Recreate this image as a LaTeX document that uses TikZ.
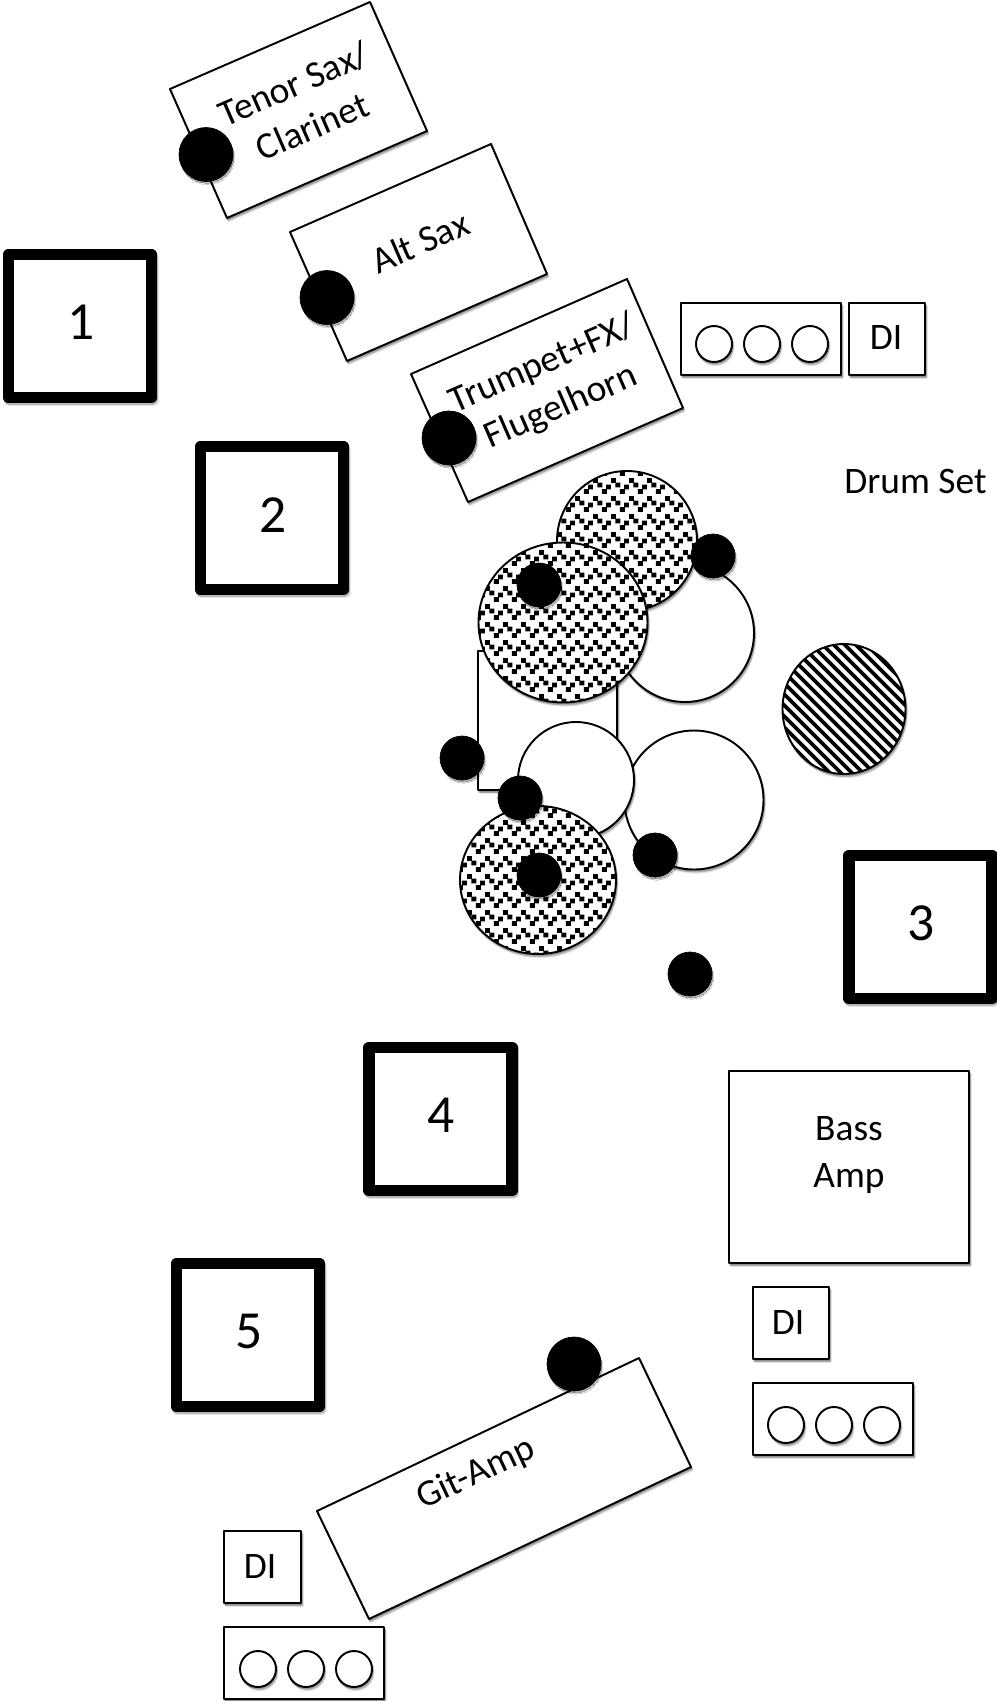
\documentclass[tikz,border=0pt]{standalone}
\usepackage{fontspec}
\setmainfont{Carlito}
\usetikzlibrary{patterns,shadows}
\newcommand{\confbit}[2]{\pgfpathrectangle{\pgfqpoint{#1pt}{#2pt}}{\pgfqpoint{2.75pt}{2.75pt}}}
\pgfdeclarepatternformonly{confetti}{\pgfqpoint{0pt}{0pt}}{\pgfqpoint{10.24pt}{10.24pt}}{\pgfqpoint{10.24pt}{10.24pt}}{%
\confbit{0}{7.4}\confbit{2.56}{4.84}\confbit{5.12}{1.14}\confbit{7.48}{3.7}
\pgfusepath{fill}}
\pgfdeclarepatternformonly{widestripes}{\pgfqpoint{0pt}{0pt}}{\pgfqpoint{6.26pt}{6.26pt}}{\pgfqpoint{6.26pt}{6.26pt}}{%
\pgfsetlinewidth{2.2pt}
\pgfpathmoveto{\pgfqpoint{-1pt}{7.26pt}}\pgfpathlineto{\pgfqpoint{7.26pt}{-1pt}}
\pgfpathmoveto{\pgfqpoint{-4pt}{4pt}}\pgfpathlineto{\pgfqpoint{4pt}{-4pt}}
\pgfpathmoveto{\pgfqpoint{2.26pt}{10.26pt}}\pgfpathlineto{\pgfqpoint{10.26pt}{2.26pt}}
\pgfusepath{stroke}}
\tikzset{
  softshade/.style={
    drop shadow={shadow xshift=.5pt,shadow yshift=-1pt,opacity=.2,fill=black,draw=black,line width=#1},
    drop shadow={shadow xshift=.9pt,shadow yshift=-1.8pt,opacity=.1,fill=black,draw=black,line width=#1}},
  box/.style={draw,line width=1.1pt,fill=white,softshade=1.1pt},
  stagebox/.style={draw,line width=6.6pt,fill=white,softshade=6.6pt},
  cymbal/.style={draw,line width=1.1pt,softshade=1.1pt,preaction={fill=white},pattern=confetti},
  ride/.style={draw,line width=1.1pt,softshade=1.1pt,preaction={fill=white},pattern=widestripes},
  mic/.style={fill=black,softshade=0pt},
  lab/.style={inner sep=0pt,align=center,font=\fontsize{21.3}{26.5}\selectfont},
  num/.style={inner sep=0pt,font=\fontsize{30.5}{32}\selectfont},
}
\begin{document}
\begin{tikzpicture}[x=0.02cm,y=-0.02cm,line join=round]
\useasboundingbox (0,0) rectangle (997,1701);
\draw[box](370,2)--(427,131)--(227,218)--(170,89)--cycle;
\draw[box](491,144)--(547,274)--(347,361)--(290,232)--cycle;
\draw[box](627,279)--(683,408)--(468,502)--(411,374)--cycle;
\draw[box](639,1358)--(691,1467)--(369,1619)--(317,1511)--cycle;
\node[lab,rotate=23.5](tenor) at (303,105){Tenor Sax/\\Clarinet};
\node[lab,rotate=23.5](alto) at (420,242){Alt Sax};
\node[lab,rotate=23.5](trumpet) at (552,386){Trumpet+FX/\\Flugelhorn};
\node[lab,rotate=25.2](gitamp) at (476,1474){Git-Amp};
\draw[mic](206,154.5)circle(27);
\draw[mic](327,297.5)circle(27);
\draw[mic](449,438)circle(27);
\draw[mic](574,1364)circle(27);
% players
\draw[stagebox](8.5,254.5)rectangle(151.5,397.5);
\draw[stagebox](200.5,446.5)rectangle(343.5,589.5);
\draw[stagebox](849,855.5)rectangle(992,998.5);
\draw[stagebox](369,1047.5)rectangle(512,1190.5);
\draw[stagebox](176.5,1263.5)rectangle(319.5,1406.5);
\node[num](one) at (81,322){1};
\node[num](two) at (273,515){2};
\node[num](three) at (921,923){3};
\node[num](four) at (441.5,1115){4};
\node[num](five) at (249,1331){5};
% drums
\draw[box](478,651)rectangle(617,790);
\draw[box](685,633)circle(69);
\draw[cymbal](627,541)circle(70);
\draw[cymbal](563,622.5)ellipse(84.5 and 80);
\draw[box](694,800)circle(69.5);
\draw[box](576,780)circle(58);
\draw[cymbal](538,880)ellipse(78 and 74);
\draw[ride](844,709)ellipse(61.5 and 65);
\draw[mic](713,556)circle(22);
\draw[mic](539,585)circle(22);
\draw[mic](462,758)circle(22);
\draw[mic](520,798)circle(22);
\draw[mic](655,855)circle(22);
\draw[mic](539,875)circle(22);
\draw[mic](690,974)circle(22);
\node[lab](drumset) at (915.5,481){Drum Set};
% boxes with three circles
\draw[box](681,303)rectangle(841,375);
\draw[box](714,344)circle(18)(762,344)circle(18)(810,344)circle(18);
\draw[box](849,303)rectangle(925,375);
\node[lab](dione) at (886,337){DI};
\draw[box](729,1071)rectangle(969,1263);
\node[lab](bassamp) at (849,1155){Bass\\Amp};
\draw[box](753,1287)rectangle(829,1359);
\node[lab](ditwo) at (788,1322){DI};
\draw[box](753,1383)rectangle(913,1455);
\draw[box](786,1425)circle(18)(834,1425)circle(18)(882,1425)circle(18);
\draw[box](224,1531)rectangle(301,1603);
\node[lab](dithree) at (260,1566){DI};
\draw[box](224,1627)rectangle(384,1699);
\draw[box](258,1669)circle(18)(306,1669)circle(18)(354,1669)circle(18);
\end{tikzpicture}
\end{document}
